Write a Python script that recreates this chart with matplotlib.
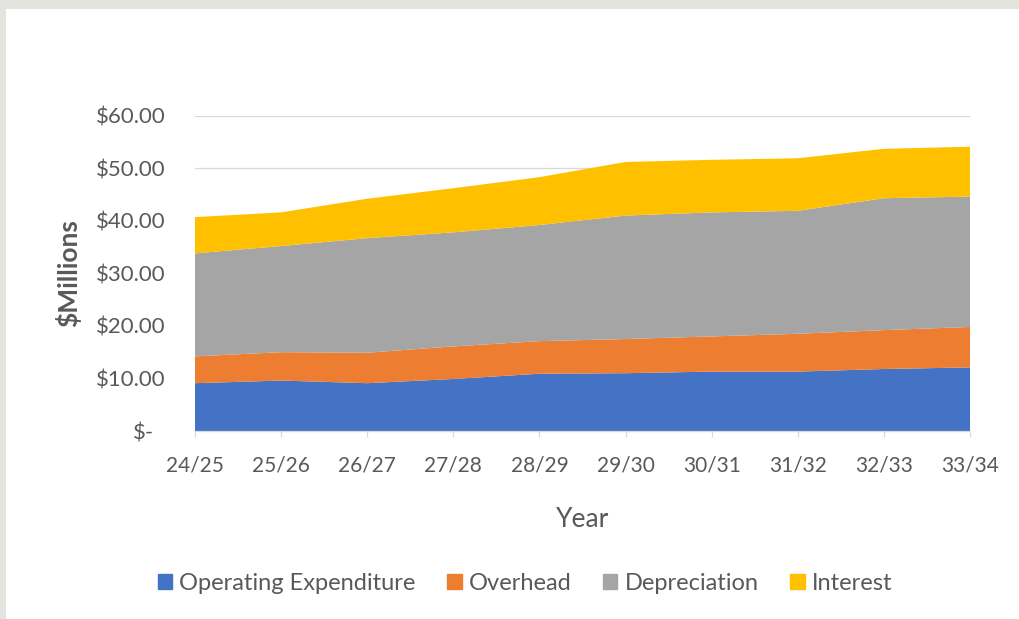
import matplotlib.pyplot as plt
import matplotlib.patches as mpatches
from matplotlib.transforms import ScaledTranslation

# Cost build-up per financial year ($ millions)
years = ["24/25", "25/26", "26/27", "27/28", "28/29",
         "29/30", "30/31", "31/32", "32/33", "33/34"]
opex = [9.1, 9.6, 9.1, 9.9, 10.9, 11.0, 11.3, 11.3, 11.8, 12.1]
overhead = [5.1, 5.4, 5.8, 6.2, 6.2, 6.5, 6.7, 7.2, 7.4, 7.7]
depreciation = [19.6, 20.2, 21.8, 21.7, 22.1, 23.5, 23.6, 23.4, 25.1, 24.8]
interest = [6.9, 6.4, 7.5, 8.4, 9.1, 10.2, 10.0, 10.0, 9.4, 9.5]

series_names = ["Operating Expenditure", "Overhead", "Depreciation", "Interest"]
colors = ["#4472C4", "#ED7D31", "#A5A5A5", "#FFC000"]
y_ticks = [0, 10, 20, 30, 40, 50, 60]

TEXT = "#595959"
FONT = "Lato"
plt.rcParams["font.family"] = [FONT, "DejaVu Sans"]

fig = plt.figure(figsize=(10.2, 6.19), dpi=100)
fig.patch.set_facecolor("#e4e4df")
# white card sitting inside the grey frame
fig.patches.append(mpatches.Rectangle((6 / 1020, 0), 1, (619 - 9) / 619,
                                      transform=fig.transFigure,
                                      facecolor="white", edgecolor="none", zorder=-10))

ax = fig.add_axes([195 / 1020, 188 / 619, 775 / 1020, 315.3 / 619])
ax.set_facecolor("none")

x = list(range(len(years)))
ax.stackplot(x, opex, overhead, depreciation, interest,
             colors=colors, labels=series_names, linewidth=0, zorder=2)

ax.set_xlim(0, len(years) - 1)
ax.set_ylim(0, 60)

ax.set_yticks(y_ticks)
ax.set_yticklabels([f"${v:.2f}" if v else "$-" for v in y_ticks])
ax.set_xticks(x)
ax.set_xticklabels(years)

ax.grid(axis="y", color="#d9d9d9", linewidth=0.9, zorder=1)
ax.set_axisbelow(True)
for side in ["top", "right", "left"]:
    ax.spines[side].set_visible(False)
ax.spines["bottom"].set_color("#d9d9d9")
ax.spines["bottom"].set_linewidth(0.9)

ax.tick_params(axis="y", length=0, pad=21, labelsize=16, labelcolor=TEXT)
ax.tick_params(axis="x", length=4, color="#d9d9d9", width=0.9, pad=14,
               labelsize=15, labelcolor=TEXT)

# the zero label sits further left, accounting style
zero_lbl = ax.yaxis.get_major_ticks()[0].label1
zero_lbl.set_transform(zero_lbl.get_transform() +
                       ScaledTranslation(-12 / 100, 0, fig.dpi_scale_trans))

ax.set_xlabel("Year", fontsize=19, color=TEXT, labelpad=22)
ax.set_ylabel("$Millions", fontsize=19, color=TEXT, fontweight="bold", labelpad=11)

handles = [mpatches.Patch(color=c, label=n) for c, n in zip(colors, series_names)]
fig.legend(handles=handles, loc="center", bbox_to_anchor=(525 / 1020, 1 - 583 / 619),
           ncol=4, frameon=False, fontsize=17, labelcolor=TEXT,
           handlelength=0.6, handleheight=0.6, handletextpad=0.3, columnspacing=1.35)

fig.savefig("out.png", dpi=100)
